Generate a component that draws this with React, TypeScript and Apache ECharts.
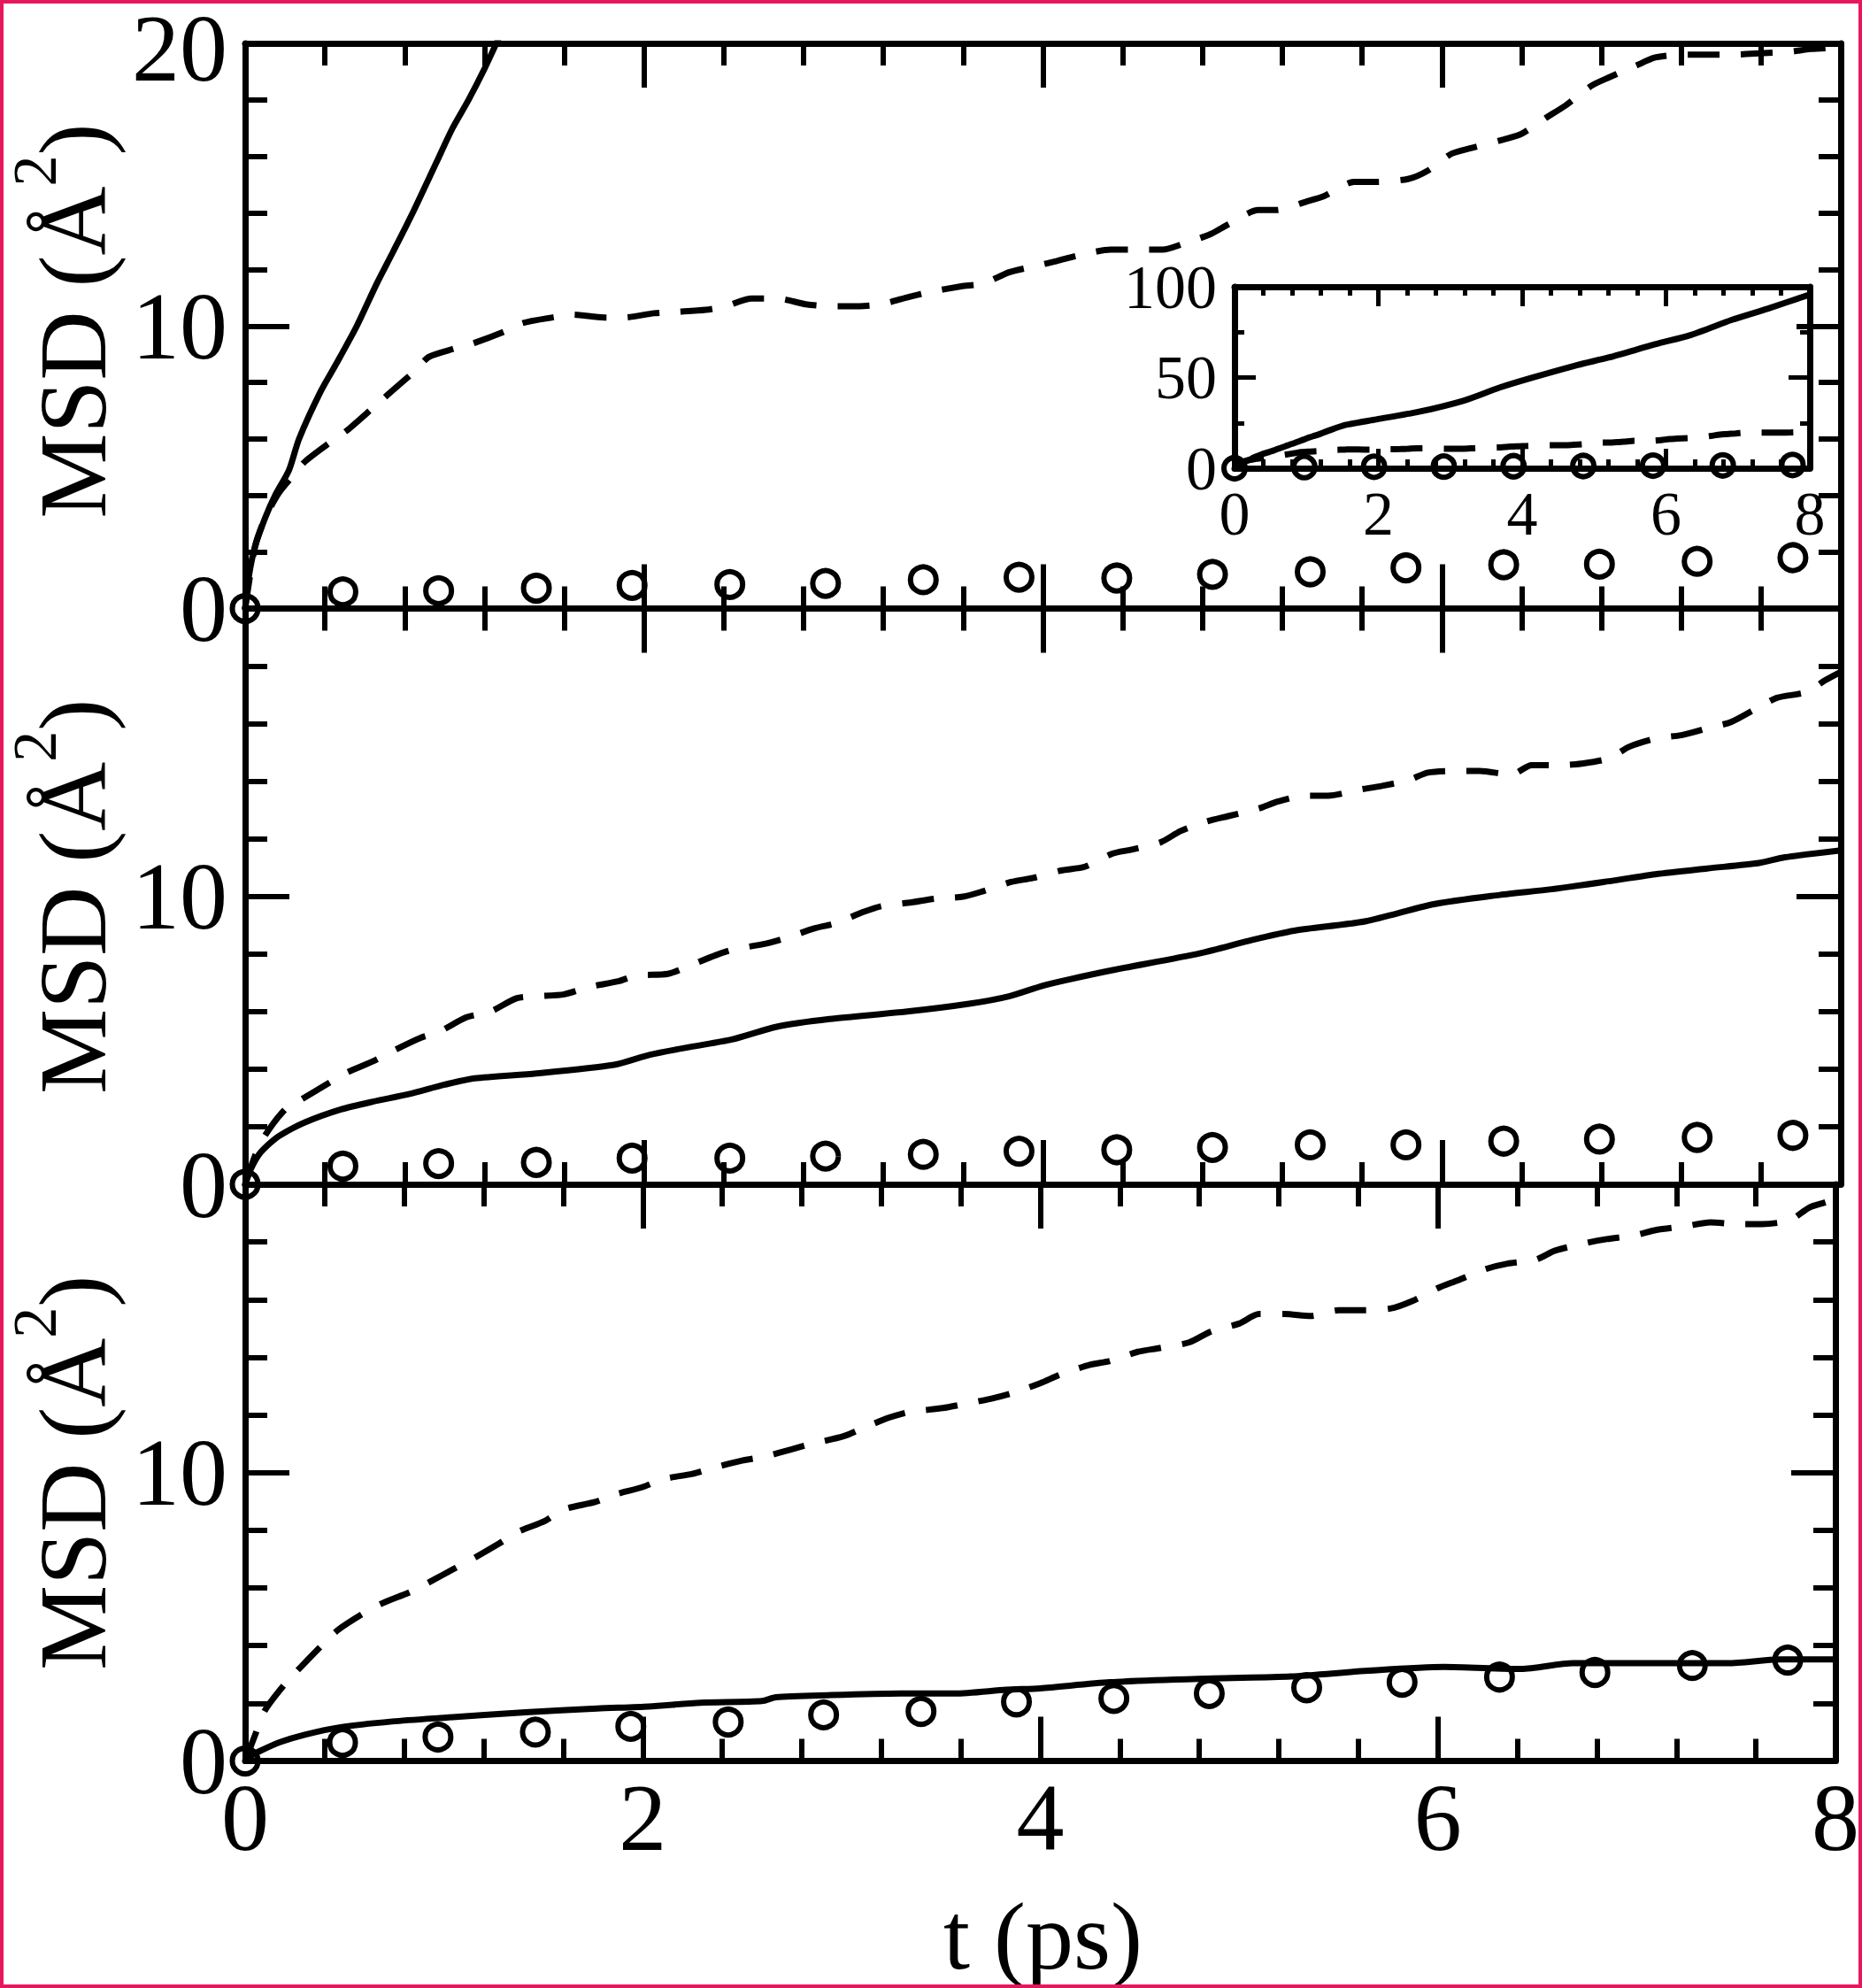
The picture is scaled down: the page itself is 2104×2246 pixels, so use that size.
import React, { useEffect, useRef } from 'react';
import * as echarts from 'echarts';

const FONT = 'Liberation Serif, serif';

// ---------- x ticks / y ticks ----------
const xTickLabels = ['0', '2', '4', '6', '8'];
const yTickLabelsMain = ['0', '10', '20'];
const yTickLabelsInset = ['0', '50', '100'];

// ---------- top panel ----------
const solid1T = [0, 0.02, 0.05, 0.1, 0.15, 0.22, 0.27, 0.38, 0.46, 0.56, 0.66, 0.74, 0.84, 0.96, 1.04, 1.12, 1.2, 1.28, 1.54, 1.97, 2.55, 3.19, 3.69, 4.12, 4.77, 5.2, 5.85, 6.35, 6.92, 7.42, 7.96, 8.0];
const solid1V = [0, 1.2, 2.2, 3.2, 4.0, 4.9, 6.0, 7.7, 8.7, 10.0, 11.5, 12.6, 14.0, 15.8, 17.0, 18.0, 19.1, 20.3, 23.8, 26.9, 31, 37.3, 44.5, 49.7, 56.9, 61, 68.3, 73.5, 81.8, 88, 95.2, 95.5];

const dashed1T = [0, 0.05, 0.1, 0.17, 0.24, 0.3, 0.43, 0.51, 0.64, 0.72, 0.85, 0.92, 1.05, 1.15, 1.3, 1.39, 1.54, 1.64, 1.8, 1.9, 2.05, 2.17, 2.31, 2.41, 2.54, 2.67, 2.81, 2.93, 3.08, 3.19, 3.33, 3.43, 3.59, 3.7, 3.83, 3.95, 4.07, 4.18, 4.34, 4.44, 4.6, 4.7, 4.84, 4.93, 5.08, 5.17, 5.32, 5.41, 5.56, 5.67, 5.83, 5.93, 6.05, 6.15, 6.31, 6.4, 6.53, 6.62, 6.75, 6.84, 6.97, 7.07, 7.2, 7.33, 7.46, 7.59, 7.74, 7.85, 8.0];
const dashed1V = [0, 2.2, 3.2, 4.1, 4.7, 5.2, 5.9, 6.3, 7.1, 7.6, 8.4, 8.9, 9.2, 9.4, 9.8, 10.1, 10.3, 10.4, 10.3, 10.3, 10.45, 10.5, 10.57, 10.7, 10.97, 10.97, 10.77, 10.7, 10.7, 10.77, 11.03, 11.2, 11.4, 11.5, 11.9, 12.1, 12.3, 12.5, 12.7, 12.7, 12.7, 12.9, 13.25, 13.6, 14.1, 14.1, 14.4, 14.6, 15.1, 15.1, 15.2, 15.5, 16.1, 16.3, 16.6, 16.8, 17.4, 17.8, 18.5, 18.8, 19.2, 19.5, 19.6, 19.6, 19.6, 19.65, 19.7, 19.8, 19.85];

const circT = [0, 0.49, 0.97, 1.46, 1.94, 2.43, 2.91, 3.4, 3.88, 4.37, 4.85, 5.34, 5.82, 6.31, 6.79, 7.28, 7.76];
const circ1V = [0, 0.59, 0.63, 0.72, 0.82, 0.85, 0.89, 1.02, 1.11, 1.08, 1.21, 1.3, 1.44, 1.55, 1.57, 1.67, 1.8];

// ---------- middle panel ----------
const solid2T = [0, 0.03, 0.07, 0.12, 0.175, 0.3, 0.48, 0.64, 0.82, 1.0, 1.15, 1.46, 1.85, 2.03, 2.23, 2.44, 2.67, 2.93, 3.32, 3.63, 3.83, 4.0, 4.12, 4.35, 4.79, 5.05, 5.26, 5.62, 5.96, 6.29, 6.55, 6.81, 7.07, 7.33, 7.59, 7.72, 8.0];
const solid2V = [0, 0.55, 1.04, 1.4, 1.7, 2.15, 2.6, 2.87, 3.13, 3.46, 3.68, 3.85, 4.15, 4.5, 4.77, 5.03, 5.48, 5.74, 6.0, 6.27, 6.53, 6.9, 7.1, 7.44, 8.03, 8.49, 8.81, 9.14, 9.73, 10.05, 10.25, 10.5, 10.77, 10.97, 11.16, 11.36, 11.6];

const dashed2T = [0, 0.05, 0.1, 0.2, 0.28, 0.42, 0.5, 0.65, 0.74, 0.88, 0.97, 1.11, 1.23, 1.36, 1.46, 1.6, 1.72, 1.87, 1.96, 2.12, 2.22, 2.36, 2.45, 2.61, 2.71, 2.85, 2.96, 3.1, 3.19, 3.34, 3.46, 3.6, 3.7, 3.84, 3.95, 4.09, 4.21, 4.35, 4.44, 4.59, 4.69, 4.82, 4.93, 5.08, 5.18, 5.32, 5.43, 5.58, 5.7, 5.83, 5.93, 6.09, 6.19, 6.35, 6.45, 6.6, 6.71, 6.84, 6.94, 7.08, 7.2, 7.34, 7.45, 7.59, 7.68, 7.83, 7.92, 8.0];
const dashed2V = [0, 1.0, 1.7, 2.6, 2.94, 3.52, 3.85, 4.3, 4.63, 5.09, 5.29, 5.8, 6.0, 6.46, 6.53, 6.6, 6.85, 7.05, 7.25, 7.31, 7.57, 7.96, 8.16, 8.36, 8.55, 8.88, 9.07, 9.46, 9.66, 9.79, 9.92, 9.99, 10.18, 10.5, 10.64, 10.9, 11.03, 11.49, 11.62, 11.88, 12.27, 12.6, 12.79, 13.05, 13.3, 13.5, 13.5, 13.7, 13.84, 14.03, 14.3, 14.36, 14.36, 14.23, 14.56, 14.56, 14.62, 14.8, 15.2, 15.5, 15.6, 15.86, 16.06, 16.58, 16.9, 17.1, 17.5, 17.8];

const circ2V = [0, 0.63, 0.72, 0.76, 0.91, 0.91, 0.98, 1.04, 1.15, 1.2, 1.28, 1.37, 1.37, 1.5, 1.57, 1.63, 1.7];

// ---------- bottom panel ----------
const solid3T = [0, 0.03, 0.07, 0.175, 0.3, 0.48, 0.74, 1.0, 1.41, 1.77, 2.03, 2.29, 2.6, 2.67, 2.93, 3.32, 3.57, 3.83, 4.0, 4.35, 4.87, 5.26, 5.65, 6.03, 6.42, 6.68, 7.07, 7.46, 7.72, 8.0];
const solid3V = [0, 0.18, 0.33, 0.65, 0.91, 1.17, 1.37, 1.5, 1.69, 1.82, 1.89, 2.02, 2.08, 2.21, 2.28, 2.34, 2.34, 2.47, 2.52, 2.73, 2.86, 2.93, 3.13, 3.26, 3.19, 3.39, 3.39, 3.39, 3.52, 3.52];

const dashed3T = [0, 0.05, 0.1, 0.2, 0.28, 0.39, 0.47, 0.6, 0.69, 0.83, 0.92, 1.06, 1.15, 1.28, 1.37, 1.51, 1.6, 1.76, 1.86, 2.0, 2.1, 2.25, 2.35, 2.5, 2.61, 2.75, 2.85, 3.01, 3.1, 3.24, 3.34, 3.51, 3.61, 3.75, 3.86, 4.0, 4.1, 4.25, 4.35, 4.49, 4.6, 4.75, 4.86, 5.0, 5.1, 5.23, 5.36, 5.5, 5.62, 5.76, 5.87, 6.0, 6.1, 6.24, 6.35, 6.49, 6.59, 6.75, 6.85, 6.99, 7.1, 7.25, 7.37, 7.51, 7.63, 7.77, 7.87, 7.96, 8.0];
const dashed3V = [0, 0.9, 1.76, 2.67, 3.26, 4.04, 4.56, 5.14, 5.47, 5.86, 6.18, 6.7, 7.03, 7.55, 7.94, 8.33, 8.72, 8.98, 9.24, 9.5, 9.77, 9.96, 10.16, 10.42, 10.55, 10.81, 11.0, 11.26, 11.52, 11.91, 12.1, 12.24, 12.37, 12.56, 12.76, 13.1, 13.4, 13.74, 13.87, 14.19, 14.32, 14.52, 14.9, 15.17, 15.5, 15.5, 15.43, 15.63, 15.63, 15.69, 15.95, 16.4, 16.67, 17.06, 17.25, 17.38, 17.7, 17.97, 18.1, 18.23, 18.42, 18.55, 18.68, 18.62, 18.62, 18.75, 19.2, 19.4, 19.55];

const circ3V = [0, 0.64, 0.83, 1.0, 1.2, 1.35, 1.6, 1.72, 2.05, 2.17, 2.34, 2.54, 2.73, 2.91, 3.07, 3.31, 3.5];

const pairs = (t: number[], v: number[]) => t.map((x, i) => [x, v[i]]);

export default function App() {
  const ref = useRef<HTMLDivElement>(null);

  useEffect(() => {
    document.body.style.margin = '0';
    const chart = echarts.init(ref.current!, null, { renderer: 'svg' });

    const L = 277;
    const PW = 1803;
    const grids = [
      { left: L, top: 37.5, width: PW, height: 650 },
      { left: L, top: 687.5, width: PW, height: 650.5 },
      { left: L, top: 1338, width: PW, height: 651.5 },
      { left: 1395, top: 324, width: 650, height: 205 },
    ];

    const black = '#000';
    const mkX = (gi: number, position: string, showLabel: boolean, inset: boolean) => ({
      type: 'value', gridIndex: gi, position, min: 0, max: 8, interval: 2,
      axisLine: { show: true, onZero: false, lineStyle: { color: black, width: 7 } },
      axisTick: { show: true, inside: true, length: inset ? 22 : 50, lineStyle: { color: black, width: inset ? 5 : 6 } },
      minorTick: { show: true, splitNumber: 5, length: inset ? 10 : 25, lineStyle: { color: black, width: inset ? 5 : 6 } },
      splitLine: { show: false },
      axisLabel: {
        show: showLabel, margin: inset ? 16 : 10, color: black,
        fontFamily: FONT, fontSize: inset ? 70 : 108,
        formatter: (v: number) => xTickLabels[Math.round(v / 2)] ?? '',
      },
    });
    const mkY = (gi: number, position: string, showLabel: boolean, inset: boolean, hideMax: boolean) => ({
      type: 'value', gridIndex: gi, position, min: 0, max: inset ? 100 : 20, interval: inset ? 50 : 10,
      axisLine: { show: true, onZero: false, lineStyle: { color: black, width: 7 } },
      axisTick: { show: true, inside: true, length: inset ? 24 : 50, lineStyle: { color: black, width: inset ? 5 : 6 } },
      minorTick: { show: true, splitNumber: inset ? 2 : 5, length: inset ? 11 : 25, lineStyle: { color: black, width: inset ? 5 : 6 } },
      splitLine: { show: false },
      axisLabel: {
        show: showLabel, margin: 20, color: black,
        fontFamily: FONT, fontSize: inset ? 70 : 108,
        formatter: (v: number) => {
          const labels = inset ? yTickLabelsInset : yTickLabelsMain;
          const i = Math.round(v / (inset ? 50 : 10));
          if (hideMax && i === 2) return '';
          if (!inset && i === 2) return '{d|' + labels[i] + '}';
          return labels[i] ?? '';
        },
        rich: {
          d: { fontFamily: FONT, fontSize: 108, color: black, padding: [10, 0, 0, 0] },
        },
      },
    });

    const xAxis: any[] = [];
    const yAxis: any[] = [];
    for (let g = 0; g < 3; g++) {
      xAxis.push(mkX(g, 'bottom', g === 2, false));
      xAxis.push(mkX(g, 'top', false, false));
      yAxis.push(mkY(g, 'left', true, false, g > 0));
      yAxis.push(mkY(g, 'right', false, false, false));
    }
    xAxis.push(mkX(3, 'bottom', true, true));
    xAxis.push(mkX(3, 'top', false, true));
    yAxis.push(mkY(3, 'left', true, true, false));
    yAxis.push(mkY(3, 'right', false, true, false));

    const solidLine = (ax: number, data: number[][]) => ({
      type: 'line', xAxisIndex: ax, yAxisIndex: ax, data, showSymbol: false, smooth: 0.25,
      lineStyle: { color: black, width: 7, type: 'solid', opacity: 1 }, clip: true, z: 3,
    });
    const dashLine = (ax: number, data: number[][]) => ({
      type: 'line', xAxisIndex: ax, yAxisIndex: ax, data, showSymbol: false, smooth: 0.25,
      lineStyle: { color: black, width: 7, type: [36, 24], opacity: 1 }, clip: true, z: 3,
    });
    const circles = (ax: number, data: number[][], size: number) => ({
      type: 'scatter', xAxisIndex: ax, yAxisIndex: ax, data, symbol: 'circle', symbolSize: size,
      itemStyle: { color: 'rgba(0,0,0,0)', borderColor: black, borderWidth: 6, opacity: 1 }, z: 4,
    });

    const c1 = pairs(circT, circ1V);
    const insetCircles = c1.filter((_, i) => i % 2 === 0);

    const series = [
      solidLine(0, pairs(solid1T, solid1V)),
      dashLine(0, pairs(dashed1T, dashed1V)),
      circles(0, c1, 29),
      solidLine(2, pairs(solid2T, solid2V)),
      dashLine(2, pairs(dashed2T, dashed2V)),
      circles(2, pairs(circT, circ2V), 29),
      solidLine(4, pairs(solid3T, solid3V)),
      dashLine(4, pairs(dashed3T, dashed3V)),
      circles(4, pairs(circT, circ3V), 29),
      solidLine(6, pairs(solid1T, solid1V)),
      dashLine(6, pairs(dashed1T, dashed1V)),
      circles(6, insetCircles, 24),
    ];

    const yTitle = (cy: number) => ({
      type: 'text', x: 82, y: cy, rotation: Math.PI / 2, z: 10,
      style: {
        text: '{a|MSD (Å}{b|2}{a|)}',
        align: 'center', verticalAlign: 'middle',
        textAlign: 'center', textVerticalAlign: 'middle',
        fill: black,
        rich: {
          a: { fontFamily: FONT, fontSize: 108, lineHeight: 156, fill: black, color: black },
          b: { fontFamily: FONT, fontSize: 70, lineHeight: 70, verticalAlign: 'top', fill: black, color: black },
        },
      },
    });

    chart.setOption({
      animation: false,
      backgroundColor: '#fff',
      grid: grids,
      xAxis,
      yAxis,
      series,
      graphic: [
        yTitle(362.5),
        yTitle(1012.75),
        yTitle(1663.75),
        {
          type: 'text', x: 1178.5, y: 2187, z: 10,
          style: {
            text: 't (ps)', fontFamily: FONT, fontSize: 108, fill: black,
            align: 'center', verticalAlign: 'middle', textAlign: 'center', textVerticalAlign: 'middle',
          },
        },
        {
          type: 'rect', z: 20,
          shape: { x: 2, y: 2, width: 2100, height: 2242 },
          style: { fill: 'none', stroke: '#E8175D', lineWidth: 4 },
        },
      ],
    });

    return () => chart.dispose();
  }, []);

  return <div ref={ref} style={{ width: 2104, height: 2246 }} />;
}
